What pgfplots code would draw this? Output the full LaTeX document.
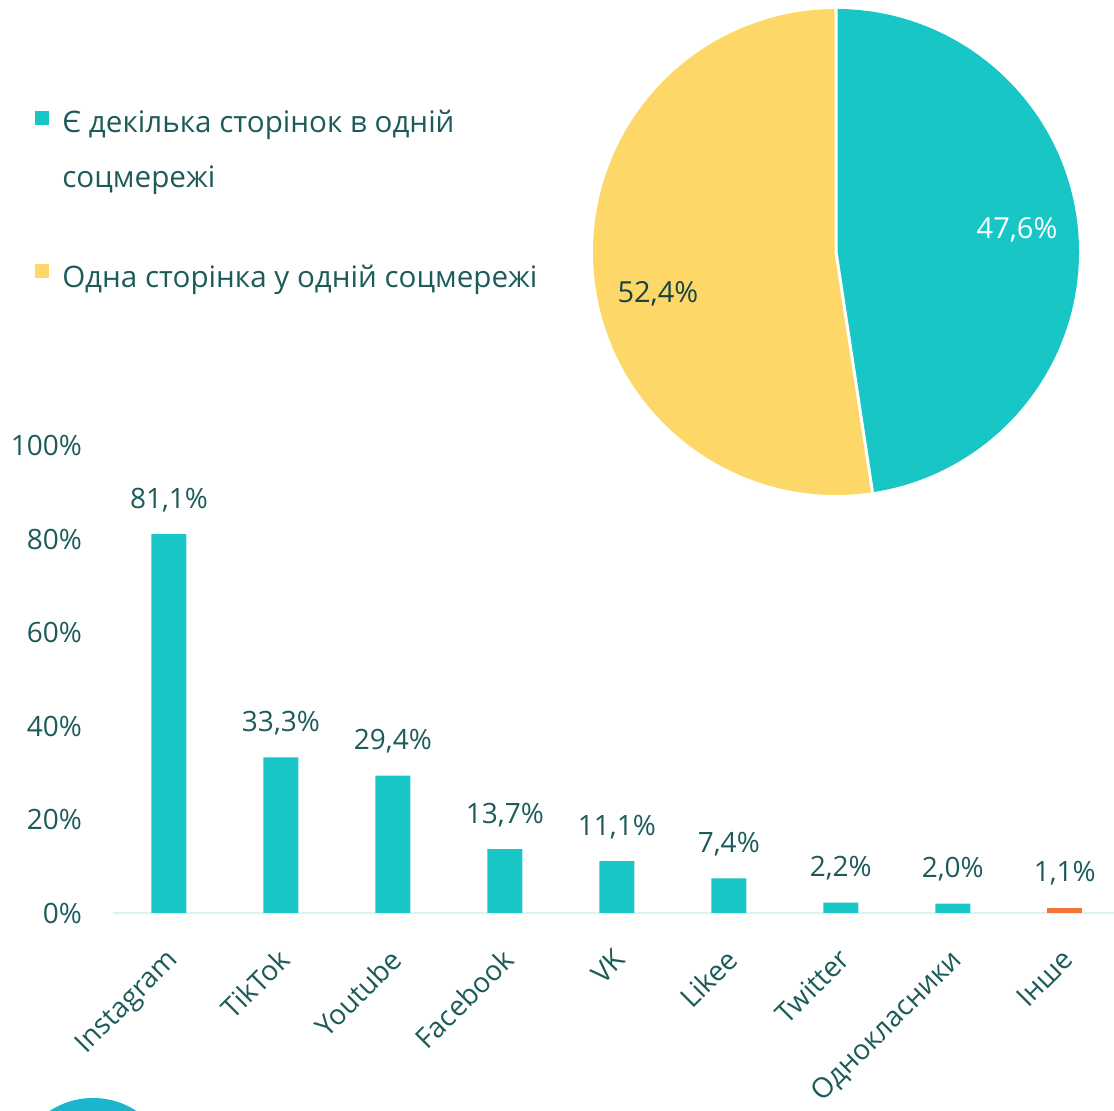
\documentclass[border=0pt]{standalone}
\usepackage{fontspec}
\setmainfont{Open Sans}
\usepackage{pgfplots}
\pgfplotsset{compat=1.18}
\definecolor{tealc}{HTML}{19C6C6}
\definecolor{yellowc}{HTML}{FDD869}
\definecolor{orangec}{HTML}{F07536}
\definecolor{textc}{HTML}{1D5B5B}
\definecolor{axisc}{HTML}{DDF2F4}
\definecolor{circc}{HTML}{1CB5D0}
\begin{document}
\begin{tikzpicture}[x=0.5pt,y=0.5pt]
\useasboundingbox (0,0) rectangle (1114,1111);
\begin{scope}
\clip (0,0) rectangle (1114,1111);
% decorative circle bottom-left
\fill[circc] (93,-66) circle[radius=39.5pt];
% legend
\fill[tealc] (35,986) rectangle (49,1000);
\node[anchor=base west, text=textc, font=\fontsize{14.8}{27.5}\selectfont, align=left, inner sep=0pt] at (62,923) {Є декілька сторінок в одній\\соцмережі};
\fill[yellowc] (35,833) rectangle (49,847);
\node[anchor=base west, text=textc, font=\fontsize{14.8}{27.5}\selectfont, inner sep=0pt] at (62,823) {Одна сторінка у одній соцмережі};
% pie
\pgfmathsetmacro\endA{90-47.6*3.6}
\pgfmathsetmacro\cA{cos(\endA)}
\pgfmathsetmacro\sA{sin(\endA)}
\begin{axis}[at={(418pt,429.5pt)}, anchor=center, scale only axis, width=243pt, height=243pt,
  hide axis, xmin=-1, xmax=1, ymin=-1, ymax=1, clip=false]
\fill[tealc] (axis cs:0,0) -- (axis cs:0,1) arc[start angle=90, end angle=\endA, radius=121.5pt] -- cycle;
\fill[yellowc] (axis cs:0,0) -- (axis cs:\cA,\sA) arc[start angle=\endA, end angle=-270, radius=121.5pt] -- cycle;
\draw[white, line width=1.5pt] (axis cs:0,1) -- (axis cs:0,0) -- (axis cs:\cA,\sA);
\node[text=white, font=\fontsize{14.5}{17}\selectfont] at (axis cs:0.745,0.09) {47,6\%};
\node[text=textc!75!black, font=\fontsize{14.5}{17}\selectfont] at (axis cs:-0.733,-0.173) {52,4\%};
\end{axis}
% bars
\begin{axis}[at={(56.5pt,99pt)}, anchor=south west, scale only axis,
  width=500.5pt, height=233.5pt,
  xmin=-0.5, xmax=8.44, ymin=0, ymax=100,
  axis x line=bottom, axis y line=left,
  x axis line style={-, draw=axisc, line width=1pt},
  y axis line style={draw=none},
  tick style={draw=none}, major tick length=0pt,
  /pgf/number format/assume math mode=true,
  ytick={0,20,40,60,80,100},
  yticklabel={\pgfmathprintnumber{\tick}\%},
  yticklabel style={text=textc, font=\fontsize{14}{16}\selectfont, xshift=-12pt},
  xtick={0,...,8},
  xticklabels={Instagram,TikTok,Youtube,Facebook,VK,Likee,Twitter,Однокласники,Інше},
  xticklabel style={text=textc, font=\fontsize{14}{16}\selectfont, xshift=-2pt, yshift=-14pt, rotate=45, anchor=north east, inner sep=2pt},
  ybar, bar width=17.5pt, clip=false,
  nodes near coords={\pgfmathprintnumber[fixed, fixed zerofill, precision=1, use comma, assume math mode=true]{\pgfplotspointmeta}\%},
  every node near coord/.append style={text=textc, font=\fontsize{14}{16}\selectfont, anchor=base, yshift=13pt, inner sep=0pt},
]
\addplot[fill=tealc, draw=none, bar shift=0pt] coordinates {(0,81.1) (1,33.3) (2,29.4) (3,13.7) (4,11.1) (5,7.4) (6,2.2) (7,2.0)};
\addplot[fill=orangec, draw=none, bar shift=0pt] coordinates {(8,1.1)};
\end{axis}
\end{scope}
\end{tikzpicture}
\end{document}
